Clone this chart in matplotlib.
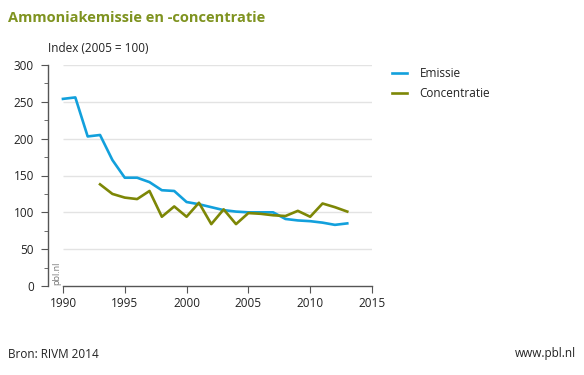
import matplotlib
matplotlib.use("Agg")
import matplotlib.pyplot as plt

years_em = list(range(1990, 2014))
emissie = [254, 256, 203, 205, 171, 147, 147, 141, 130, 129, 114, 111, 107, 103,
           101, 100, 100, 100, 91, 89, 88, 86, 83, 85]
years_co = list(range(1993, 2014))
concentratie = [138, 125, 120, 118, 129, 94, 108, 94, 113, 84, 104, 84, 99, 98,
                96, 95, 102, 94, 112, 107, 101]
yticks = [0, 50, 100, 150, 200, 250, 300]
xticks = [1990, 1995, 2000, 2005, 2010, 2015]

BLUE = "#12a0dc"
OLIVE = "#7d8706"
TITLE = "#7f9320"
TXT = "#222222"

plt.rcParams['font.family'] = ['Open Sans', 'DejaVu Sans']

fig = plt.figure(figsize=(5.84, 3.75), dpi=100)
ax = fig.add_axes([48/584, 89/375, (372-48)/584, (286-65)/375])
ax.set_xlim(1988.79, 2015)
ax.set_ylim(0, 300)

ax.hlines(yticks[1:], 1990, 2015, color="#e3e3e3", lw=1, zorder=0)
ax.plot(years_em, emissie, color=BLUE, lw=1.9, label="Emissie", zorder=3)
ax.plot(years_co, concentratie, color=OLIVE, lw=1.9, label="Concentratie", zorder=3)

for s in ["top", "right"]:
    ax.spines[s].set_visible(False)
ax.spines["left"].set_bounds(0, 300)
ax.spines["bottom"].set_bounds(1990, 2015)
ax.spines["left"].set_color("#555555")
ax.spines["bottom"].set_color("#555555")
ax.spines["left"].set_linewidth(1)
ax.spines["bottom"].set_linewidth(1)

ax.set_yticks(yticks)
ax.set_yticks(range(25, 300, 50), minor=True)
ax.set_xticks(xticks)
ax.tick_params(axis="y", which="major", length=5, color="#555555", labelsize=8.5, labelcolor=TXT, pad=5)
ax.tick_params(axis="y", which="minor", length=3, color="#555555")
ax.tick_params(axis="x", which="major", length=5, color="#555555", labelsize=8.5, labelcolor=TXT, pad=3)

ax.text(0.012, 0.005, "pbl.nl", transform=ax.transAxes, rotation=90, fontsize=6.5,
        color="#777777", ha="left", va="bottom")

leg = ax.legend(loc="upper left", bbox_to_anchor=(1.03, 1.04), frameon=False,
                fontsize=8.5, handlelength=1.2, handletextpad=1.1, labelspacing=0.6)
for t in leg.get_texts():
    t.set_color(TXT)

fig.text(8/584, 1 - 18/375, "Ammoniakemissie en -concentratie", fontsize=10.5,
         fontweight="bold", color=TITLE, va="center", ha="left")
fig.text(48/584, 1 - 48/375, "Index (2005 = 100)", fontsize=8.5, color=TXT,
         va="center", ha="left")
fig.text(8/584, 1 - 354/375, "Bron: RIVM 2014", fontsize=8.5, color=TXT, va="center", ha="left")
fig.text(576/584, 1 - 354/375, "www.pbl.nl", fontsize=8.5, color=TXT, va="center", ha="right")

fig.savefig("out.png", dpi=100, facecolor="white")
